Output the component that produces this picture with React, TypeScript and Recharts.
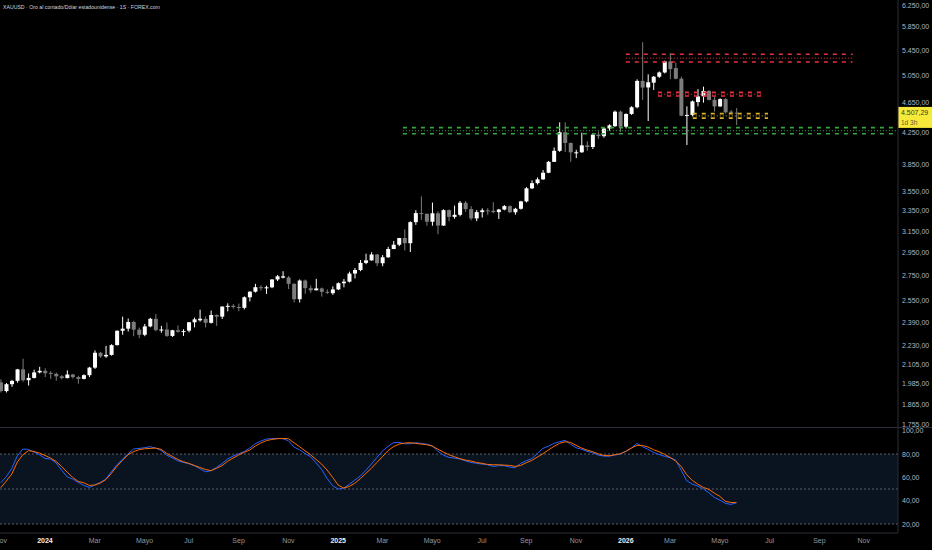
import React from "react";
import {
  ComposedChart, Bar, Line, XAxis, YAxis, ReferenceLine, ReferenceArea,
} from "recharts";

// weekly candles, week 0 = week of 1 Jan 2024 (first visible = 6 Nov 2023)
const FIRST_WEEK = -8;

const OPEN = [
  1992, 1940, 1981, 2001, 2072, 2005, 2019, 2053, 2063, 2050, 2044, 2029, 2018, 2040, 2024, 2013,
  2036, 2083, 2179, 2155, 2165, 2230, 2329, 2344, 2392, 2337, 2301, 2360, 2415, 2331, 2338, 2293,
  2333, 2322, 2330, 2390, 2404, 2414, 2386, 2443, 2431, 2506, 2512, 2503, 2497, 2578, 2622, 2658,
  2653, 2657, 2721, 2736, 2737, 2685, 2563, 2712, 2650, 2633, 2648, 2621, 2610, 2640, 2690, 2703,
  2770, 2800, 2861, 2883, 2935, 2858, 2910, 2984, 3023, 3085, 3037, 3237, 3327, 3319, 3241, 3325,
  3204, 3357, 3289, 3310, 3433, 3368, 3274, 3337, 3355, 3350, 3337, 3363, 3398, 3335, 3371, 3447,
  3586, 3643, 3685, 3760, 3886, 4018, 4250, 4115, 3995, 4000, 4085, 4065, 4220, 4200, 4300, 4330,
  4524, 4323, 4493, 4585, 4966, 4869, 4940, 5030, 5095, 5268, 5163, 5000, 4469, 4480, 4658, 4740,
  4818, 4690, 4597, 4700, 4524, 4510,
];
const HIGH = [
  2010, 1988, 2007, 2075, 2140, 2047, 2070, 2088, 2079, 2062, 2052, 2036, 2066, 2044, 2032, 2041,
  2088, 2195, 2185, 2225, 2236, 2332, 2431, 2417, 2400, 2352, 2378, 2422, 2450, 2364, 2388, 2336,
  2368, 2340, 2392, 2424, 2483, 2432, 2477, 2448, 2509, 2531, 2525, 2529, 2585, 2625, 2685, 2673,
  2670, 2722, 2758, 2790, 2750, 2690, 2721, 2721, 2672, 2726, 2655, 2640, 2665, 2697, 2725, 2786,
  2817, 2886, 2942, 2955, 2940, 2930, 3004, 3057, 3086, 3167, 3245, 3357, 3500, 3325, 3435, 3345,
  3365, 3365, 3403, 3451, 3452, 3398, 3358, 3375, 3377, 3438, 3370, 3409, 3405, 3380, 3453, 3599,
  3674, 3707, 3791, 3897, 4059, 4380, 4381, 4120, 4030, 4245, 4135, 4225, 4260, 4310, 4355, 4540,
  4540, 4500, 4600, 4990, 5584, 5066, 5040, 5110, 5280, 5402, 5250, 5030, 4597, 4680, 4843, 4880,
  4830, 4738, 4710, 4715, 4545, 4575,
];
const LOW = [
  1932, 1932, 1965, 1990, 1996, 1973, 2016, 2047, 2024, 2013, 2002, 2010, 2016, 2015, 1984, 2010,
  2024, 2075, 2146, 2146, 2160, 2228, 2301, 2324, 2291, 2277, 2291, 2354, 2325, 2315, 2286, 2286,
  2316, 2293, 2318, 2353, 2394, 2353, 2381, 2364, 2414, 2470, 2491, 2471, 2485, 2546, 2615, 2630,
  2604, 2650, 2708, 2730, 2643, 2537, 2537, 2605, 2613, 2632, 2583, 2603, 2597, 2636, 2657, 2696,
  2730, 2790, 2850, 2880, 2832, 2832, 2906, 2982, 3010, 2971, 2957, 3210, 3260, 3202, 3202, 3121,
  3200, 3245, 3270, 3295, 3340, 3255, 3247, 3282, 3310, 3325, 3268, 3355, 3330, 3311, 3362, 3436,
  3578, 3628, 3680, 3755, 3885, 4005, 4004, 3886, 3930, 3995, 4020, 4040, 4165, 4180, 4270, 4320,
  4255, 4300, 4480, 4570, 4688, 4398, 4832, 5010, 5080, 4991, 4990, 4465, 4090, 4460, 4597, 4650,
  4680, 4524, 4590, 4500, 4500, 4345,
];
const CLOSE = [
  1940, 1981, 2001, 2072, 2005, 2019, 2053, 2063, 2048, 2044, 2029, 2018, 2040, 2024, 2013, 2036,
  2083, 2179, 2155, 2165, 2230, 2329, 2344, 2392, 2337, 2301, 2360, 2415, 2334, 2338, 2293, 2333,
  2322, 2327, 2390, 2411, 2416, 2386, 2443, 2431, 2506, 2512, 2503, 2497, 2578, 2622, 2658, 2653,
  2657, 2721, 2747, 2747, 2685, 2563, 2712, 2650, 2633, 2648, 2621, 2620, 2640, 2690, 2703, 2770,
  2800, 2861, 2883, 2935, 2858, 2910, 2984, 3023, 3085, 3037, 3237, 3327, 3319, 3241, 3325, 3204,
  3357, 3289, 3310, 3433, 3368, 3274, 3337, 3355, 3350, 3337, 3363, 3398, 3335, 3371, 3447, 3586,
  3643, 3685, 3760, 3886, 4018, 4250, 4115, 4000, 4000, 4085, 4065, 4220, 4200, 4300, 4340, 4524,
  4323, 4493, 4585, 4966, 4867, 4946, 5030, 5095, 5268, 5147, 4999, 4469, 4480, 4667, 4738, 4818,
  4688, 4597, 4700, 4515, 4510, 4507.29,
];

// Stoch RSI
const STOCH_K = [
  55.4, 60.5, 67.7, 78.5, 84.3, 84.0, 81.7, 79.4, 76.2, 75.7, 72.5, 66.2, 60.5, 58.5, 55.7, 53.1,
  51.4, 53.4, 55.7, 58.5, 64.8, 70.8, 75.4, 80.0, 84.3, 84.8, 85.4, 86.3, 85.1, 83.1, 79.1, 76.8,
  74.2, 72.8, 71.7, 70.0, 67.4, 64.8, 65.7, 68.5, 71.7, 75.7, 78.2, 80.2, 82.0, 85.1, 88.8, 91.1,
  92.8, 93.1, 93.4, 93.1, 91.4, 86.0, 83.7, 80.5, 77.7, 72.5, 66.8, 59.1, 52.8, 50.0, 50.8, 54.0,
  57.7, 61.1, 66.0, 71.4, 77.1, 82.5, 86.5, 89.7, 90.0, 88.8, 88.8, 89.7, 89.1, 88.5, 87.1, 82.5,
  79.1, 77.1, 76.5, 75.7, 74.2, 72.8, 72.0, 71.4, 70.8, 69.4, 70.0, 70.0, 68.8, 68.2, 72.0, 74.2,
  76.0, 80.5, 84.8, 86.8, 89.1, 90.5, 91.7, 88.5, 85.4, 84.0, 82.3, 81.1, 79.1, 78.2, 78.2, 79.1,
  80.0, 82.3, 85.1, 89.1, 86.3, 84.0, 81.4, 79.7, 78.0, 76.8, 74.8, 66.2, 57.1, 54.2, 52.5, 50.2,
  46.8, 42.8, 40.5, 37.7, 36.8, 38.3,
];
const STOCH_D = [
  51.1, 56.8, 62.8, 73.1, 79.4, 82.8, 82.2, 80.8, 78.8, 76.5, 73.7, 69.4, 64.5, 60.0, 56.5, 55.4,
  53.1, 53.4, 55.1, 58.0, 63.4, 69.4, 74.5, 79.4, 82.0, 83.7, 84.5, 84.8, 85.1, 84.0, 80.5, 78.0,
  75.4, 73.4, 72.0, 70.2, 68.5, 66.8, 65.7, 67.7, 70.0, 73.7, 76.5, 79.1, 81.4, 83.4, 86.8, 89.4,
  91.4, 92.5, 93.1, 93.4, 93.1, 89.7, 86.3, 82.8, 79.4, 75.4, 71.4, 66.3, 60.0, 53.4, 50.8, 52.2,
  54.9, 58.8, 63.4, 67.7, 72.8, 77.7, 82.8, 86.3, 88.5, 89.4, 89.7, 89.1, 88.5, 88.0, 86.8, 84.2,
  81.7, 79.4, 77.7, 76.0, 74.8, 74.0, 72.8, 72.0, 71.1, 70.8, 70.8, 70.5, 70.2, 69.4, 70.2, 72.5,
  74.5, 77.4, 80.2, 83.4, 86.5, 89.1, 90.5, 90.0, 87.4, 85.1, 83.4, 82.0, 80.2, 78.8, 78.5, 79.4,
  80.2, 82.3, 85.1, 87.4, 87.4, 86.0, 83.7, 82.0, 79.7, 77.1, 74.0, 69.4, 62.3, 57.4, 54.2, 51.4,
  49.7, 46.5, 43.7, 39.4, 38.5, 38.3,
];

const PRICE_TICKS = [1755, 1865, 1985, 2105, 2230, 2390, 2550, 2750, 2950, 3150, 3350, 3550, 3850, 4250, 4650, 5050, 5450, 5850, 6250];
const STOCH_TICKS = [20, 40, 60, 80, 100];
const TIME_TICKS = [-8, 0, 9, 18, 26, 35, 44, 53, 61, 70, 79, 87, 96, 105, 113, 122, 131, 140, 148];
const TIME_LABELS = ["Nov", "2024", "Mar", "Mayo", "Jul", "Sep", "Nov", "2025", "Mar", "Mayo", "Jul", "Sep", "Nov", "2026", "Mar", "Mayo", "Jul", "Sep", "Nov"];

const LAST_PRICE = 4507.29;
const X_DOMAIN = [-8.13, 154.2];

// drawn zones: week range + upper / middle / lower price
const ZONES = [
  { from: 105, to: 146, prices: [5384, 5320, 5258], color: "#e8323f" },
  { from: 110.8, to: 129.8, prices: [4796, 4770, 4744], color: "#e8323f" },
  { from: 117.1, to: 130.7, prices: [4497, 4466, 4436], color: "#d8b02a" },
  { from: 64.7, to: 154.2, prices: [4310, 4270, 4231], color: "#37a540" },
];

const data = OPEN.map((o, i) => ({
  w: FIRST_WEEK + i,
  open: o,
  high: HIGH[i],
  low: LOW[i],
  close: CLOSE[i],
  k: STOCH_K[i],
  d: STOCH_D[i],
}));

const fmt = (v: number) => {
  const [i, d] = v.toFixed(2).split(".");
  return i.replace(/\B(?=(\d{3})+(?!\d))/g, ".") + "," + d;
};

const FONT = "'Liberation Sans', Arial, sans-serif";
const GRID = "#2a2e39";

function Candle(props: any) {
  const { x, y, width, height, payload } = props;
  if (!payload || !Number.isFinite(y) || !Number.isFinite(height)) return null;
  const { open, close, high, low } = payload;
  const lh = Math.log(high);
  const span = lh - Math.log(low) || 1;
  const toY = (v: number) => y + ((lh - Math.log(v)) / span) * height;
  const cx = x + width / 2;
  const up = close >= open;
  const color = up ? "#ffffff" : "#7c7c7c";
  const top = toY(Math.max(open, close));
  const bot = toY(Math.min(open, close));
  return (
    <g>
      <line x1={cx} x2={cx} y1={y} y2={y + height} stroke={color} strokeWidth={1} />
      <rect x={cx - 2} y={top} width={4} height={Math.max(1, bot - top)} fill={color} />
    </g>
  );
}

function PriceTag(props: any) {
  const vb = props.viewBox;
  if (!vb) return null;
  const x = vb.x + vb.width;
  const y = vb.y;
  return (
    <g>
      <rect x={x} y={y - 6} width={34} height={21} fill="#f7e93a" />
      <text x={x + 3} y={y + 2.5} fontSize={7} fontFamily={FONT} fill="#3a3a22">{fmt(LAST_PRICE)}</text>
      <text x={x + 3} y={y + 12} fontSize={6.5} fontFamily={FONT} fill="#5a5a30">1d 3h</text>
    </g>
  );
}

function TimeTick(props: any) {
  const { x, y, payload } = props;
  const label = TIME_LABELS[TIME_TICKS.indexOf(payload.value)];
  const isYear = /^\d{4}$/.test(label);
  return (
    <text x={x} y={y + 10} textAnchor="middle" fontSize={7} fontFamily={FONT}
      fill={isYear ? "#f0f0f0" : "#9598a1"} fontWeight={isYear ? 700 : 400}>
      {label}
    </text>
  );
}

export default function App() {
  return (
    <div style={{ position: "relative", width: 932, height: 550, background: "#000", overflow: "hidden", fontFamily: FONT }}>
      <style>{"body{margin:0;background:#000}"}</style>
      <div style={{ position: "absolute", left: 3, top: 4, fontSize: 5.2, color: "#d1d4dc", zIndex: 2, whiteSpace: "nowrap" }}>
        XAUUSD · Oro al contado/Dólar estadounidense · 1S · FOREX.com
      </div>

      <ComposedChart width={932} height={427} data={data} margin={{ top: 0, right: 0, left: 0, bottom: 0 }}>
        <XAxis dataKey="w" type="number" domain={X_DOMAIN} allowDataOverflow hide />
        <YAxis orientation="right" width={34} scale="log" domain={[1740, 6346]} allowDataOverflow
          ticks={PRICE_TICKS} interval={0} tickFormatter={fmt} tickSize={0} tickMargin={4}
          axisLine={{ stroke: GRID }} tickLine={false}
          tick={{ fontSize: 7, fill: "#b2b5be", fontFamily: FONT }} />
        {ZONES.map((z, i) => (
          <React.Fragment key={i}>
            <ReferenceLine segment={[{ x: z.from, y: z.prices[0] }, { x: z.to, y: z.prices[0] }]}
              stroke={z.color} strokeWidth={1.6} strokeDasharray="4 5" ifOverflow="visible" />
            <ReferenceLine segment={[{ x: z.from, y: z.prices[1] }, { x: z.to, y: z.prices[1] }]}
              stroke={z.color} strokeDasharray="1 2" ifOverflow="visible" />
            <ReferenceLine segment={[{ x: z.from, y: z.prices[2] }, { x: z.to, y: z.prices[2] }]}
              stroke={z.color} strokeWidth={1.6} strokeDasharray="4 5" ifOverflow="visible" />
          </React.Fragment>
        ))}
        <Bar dataKey={(d: any) => [d.low, d.high]} barSize={4} shape={Candle} isAnimationActive={false} />
        <ReferenceLine y={LAST_PRICE} stroke="transparent" label={<PriceTag />} />
      </ComposedChart>

      <div style={{ height: 1, background: GRID }} />

      <ComposedChart width={932} height={122} data={data} margin={{ top: 0, right: 0, left: 0, bottom: 0 }}>
        <XAxis dataKey="w" type="number" domain={X_DOMAIN} allowDataOverflow ticks={TIME_TICKS}
          interval={0} height={17} tickSize={0} tickMargin={0} tick={<TimeTick />}
          axisLine={{ stroke: GRID }} tickLine={false} />
        <YAxis orientation="right" width={34} domain={[12.3, 102.3]} allowDataOverflow
          ticks={STOCH_TICKS} interval={0} tickFormatter={fmt} tickSize={0} tickMargin={4}
          axisLine={{ stroke: GRID }} tickLine={false}
          tick={{ fontSize: 7, fill: "#b2b5be", fontFamily: FONT }} />
        <ReferenceArea y1={20} y2={80} fill="#0a1420" fillOpacity={1} stroke="none" />
        <ReferenceLine y={80} stroke="#5d606b" strokeDasharray="2 2" />
        <ReferenceLine y={50} stroke="#5d606b" strokeDasharray="2 2" />
        <ReferenceLine y={20} stroke="#5d606b" strokeDasharray="2 2" />
        <Line dataKey="k" stroke="#2962ff" strokeWidth={1} dot={false} isAnimationActive={false} />
        <Line dataKey="d" stroke="#ff6d00" strokeWidth={1} dot={false} isAnimationActive={false} />
      </ComposedChart>
    </div>
  );
}
